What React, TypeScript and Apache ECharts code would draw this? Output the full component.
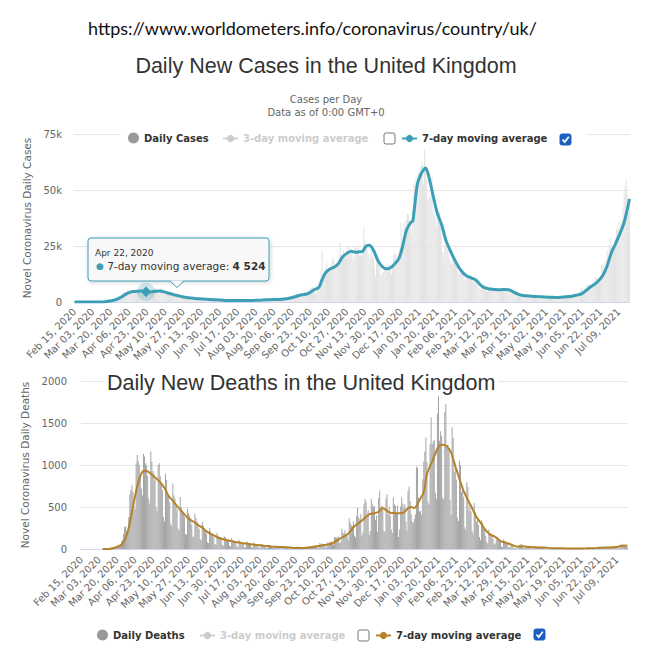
import React, { useEffect, useRef } from 'react';
import * as echarts from 'echarts';

// ---------------- DATA ----------------
const START_DATE = '2020-02-15';
const MONTHS = ['Jan', 'Feb', 'Mar', 'Apr', 'May', 'Jun', 'Jul', 'Aug', 'Sep', 'Oct', 'Nov', 'Dec'];
const SOURCE_URL = 'https://www.worldometers.info/coronavirus/country/uk/';
const TOOLTIP_DATE = '2020-04-22';

// Daily new cases (one value per day)
const casesFeb2020 = [0, 0, 0, 0, 0, 0, 0, 0, 0, 0, 0, 4, 0, 5, 3];
const casesMar2020 = [13, 4, 11, 34, 30, 48, 43, 67, 46, 50, 83, 134, 208, 342, 251, 152, 407, 676, 643, 714, 1035, 665, 967, 1427, 1452, 2129, 2885, 2546, 2433, 2619, 3009];
const casesApr2020 = [4324, 4244, 4450, 3735, 5903, 3802, 3634, 5491, 4344, 5195, 5233, 5288, 4342, 5252, 4603, 4617, 5599, 5525, 5850, 4676, 4301, 4451, 4583, 5386, 4913, 4463, 4309, 3996, 4076, 6032];
const casesMay2020 = [6201, 4806, 4339, 3985, 4406, 6111, 5614, 4649, 3896, 3923, 3877, 3403, 3242, 3446, 3560, 3450, 3534, 2684, 2412, 2615, 2472, 2959, 2959, 2409, 1625, 2004, 2013, 2095, 2095, 1936, 1570];
const casesJun2020 = [1653, 1871, 1805, 1650, 1557, 1326, 1205, 1541, 1387, 1266, 1541, 1425, 1514, 1056, 1514, 1056, 1279, 1218, 1346, 1295, 1221, 958, 874, 653, 1118, 1380, 1006, 901, 652, 1171];
const casesJul2020 = [829, 576, 544, 624, 516, 352, 581, 630, 512, 642, 820, 650, 530, 598, 538, 463, 687, 827, 580, 726, 445, 560, 769, 768, 767, 445, 685, 560, 763, 846, 880];
const casesAug2020 = [771, 744, 938, 670, 892, 950, 871, 758, 1062, 1065, 1148, 1009, 1441, 1012, 1040, 1077, 713, 1089, 812, 1182, 1033, 1288, 1041, 1184, 1048, 1269, 1522, 1276, 1108, 1715, 1406];
const casesSep2020 = [1295, 1508, 1735, 1940, 1813, 2988, 2948, 2460, 2659, 3539, 3497, 3330, 3105, 2621, 3105, 3991, 3395, 4322, 4422, 3899, 4368, 4926, 6178, 6634, 6874, 6042, 5693, 4044, 7143, 7108];
const casesOct2020 = [6914, 6968, 12872, 22961, 12594, 14542, 14162, 17540, 13864, 15166, 12872, 13972, 17234, 19724, 18980, 15650, 16171, 16982, 18804, 21331, 26688, 21242, 20530, 23012, 19790, 20890, 22885, 24701, 23065, 24405, 21915];
const casesNov2020 = [23254, 18950, 20018, 25177, 24141, 23287, 24957, 20572, 21350, 20412, 22950, 33470, 27301, 26860, 24962, 21363, 20051, 19609, 22915, 20252, 19875, 15450, 11299, 18377, 18213, 17555, 16022, 12155, 12330, 13430];
const casesDec2020 = [13430, 16170, 14879, 16298, 15539, 17272, 14718, 12282, 16578, 20964, 21672, 21502, 18447, 20263, 18450, 25161, 35383, 28507, 27052, 35928, 33364, 36804, 39237, 39036, 32725, 34693, 30501, 41385, 53135, 50023, 55892];
const casesJan2021 = [53285, 57725, 54990, 58784, 60916, 62322, 52618, 68053, 59937, 54940, 46169, 45533, 47525, 48682, 55761, 41346, 38598, 37535, 33355, 38905, 37892, 40261, 33552, 30004, 22195, 20089, 25308, 28680, 29079, 23275, 21088];
const casesFeb2021 = [18607, 16840, 19202, 20634, 19114, 18262, 15845, 14104, 12364, 13013, 15144, 13494, 13308, 10972, 9765, 10625, 12718, 12057, 12027, 10406, 9834, 10641, 8489, 9938, 9985, 8523, 7434, 6035];
const casesMar2021 = [5455, 6391, 6385, 6573, 6040, 5177, 5177, 4712, 5766, 5926, 6609, 6753, 5534, 4618, 5089, 5294, 5758, 6303, 4802, 5587, 5312, 5342, 5605, 6397, 6187, 4715, 3862, 4654, 4654, 4052, 4479];
const casesApr2021 = [4052, 3402, 3423, 2297, 2762, 2379, 3567, 3150, 3060, 2589, 1730, 3568, 2472, 2491, 2672, 2596, 2206, 1882, 2524, 2396, 2729, 2678, 2605, 1946, 2020, 1712, 2064, 2166, 2381, 2331];
const casesMay2021 = [2411, 1671, 1649, 2613, 2631, 2490, 2252, 1770, 1770, 2357, 2474, 2285, 2657, 2193, 2027, 1926, 2412, 2696, 2874, 2527, 2695, 2829, 3201, 2439, 2493, 3180, 3542, 4182, 3398, 3240, 3383];
const casesJun2021 = [3165, 4330, 5274, 6238, 5765, 5341, 5683, 6048, 7540, 7393, 8125, 7738, 7490, 7742, 7673, 9055, 11007, 10476, 10321, 9284, 10633, 11625, 16135, 16703, 15810, 18270, 14876, 22868, 20479, 25606];
const casesJul2021 = [27989, 24248, 24885, 24248, 27334, 28773, 32548, 32551, 35707, 31772, 34471, 36660, 42302, 48553, 51870, 54674, 48161, 39950, 46558];

// 7-day moving average of cases
const casesAvgPoints: [string, number][] = [
  ['2020-02-15', 0], ['2020-03-01', 3], ['2020-03-08', 35], ['2020-03-15', 150], ['2020-03-19', 400], ['2020-03-22', 700],
  ['2020-03-26', 1300], ['2020-03-29', 2000], ['2020-04-02', 3200], ['2020-04-06', 4200], ['2020-04-10', 4700], ['2020-04-14', 4850],
  ['2020-04-18', 4900], ['2020-04-22', 4524], ['2020-04-26', 4450], ['2020-05-01', 4800], ['2020-05-05', 4900], ['2020-05-09', 4500],
  ['2020-05-13', 3900], ['2020-05-17', 3400], ['2020-05-21', 2900], ['2020-05-25', 2500], ['2020-05-29', 2100], ['2020-06-03', 1750],
  ['2020-06-08', 1500], ['2020-06-14', 1350], ['2020-06-21', 1150], ['2020-06-28', 950], ['2020-07-05', 700], ['2020-07-12', 620],
  ['2020-07-19', 640], ['2020-07-26', 680], ['2020-08-02', 760], ['2020-08-09', 880], ['2020-08-16', 1050], ['2020-08-23', 1100],
  ['2020-08-30', 1300], ['2020-09-06', 2000], ['2020-09-13', 3000], ['2020-09-20', 3600], ['2020-09-27', 5600], ['2020-10-01', 6500],
  ['2020-10-04', 10000], ['2020-10-07', 12900], ['2020-10-11', 14600], ['2020-10-15', 15500], ['2020-10-19', 17000], ['2020-10-23', 20000],
  ['2020-10-27', 21700], ['2020-10-31', 22700], ['2020-11-04', 22200], ['2020-11-08', 22400], ['2020-11-11', 22600], ['2020-11-14', 24800],
  ['2020-11-17', 25300], ['2020-11-21', 23200], ['2020-11-25', 18800], ['2020-11-29', 16000], ['2020-12-03', 14800], ['2020-12-07', 15300],
  ['2020-12-11', 17000], ['2020-12-15', 19500], ['2020-12-18', 24000], ['2020-12-22', 32000], ['2020-12-26', 35500], ['2020-12-28', 36200],
  ['2021-01-01', 52000], ['2021-01-04', 56500], ['2021-01-07', 59000], ['2021-01-09', 59800], ['2021-01-12', 56000], ['2021-01-16', 47500],
  ['2021-01-20', 39500], ['2021-01-24', 34500], ['2021-01-28', 27500], ['2021-02-01', 23000], ['2021-02-05', 19000], ['2021-02-09', 15500],
  ['2021-02-13', 13000], ['2021-02-17', 11500], ['2021-02-21', 10700], ['2021-02-25', 9800], ['2021-03-01', 7800], ['2021-03-05', 6400],
  ['2021-03-10', 5800], ['2021-03-15', 5600], ['2021-03-20', 5500], ['2021-03-25', 5600], ['2021-03-29', 5300], ['2021-04-02', 4300],
  ['2021-04-06', 3400], ['2021-04-10', 2900], ['2021-04-15', 2700], ['2021-04-20', 2500], ['2021-04-25', 2400], ['2021-05-01', 2200],
  ['2021-05-06', 2100], ['2021-05-11', 2000], ['2021-05-16', 2100], ['2021-05-21', 2300], ['2021-05-26', 2600], ['2021-05-31', 3100],
  ['2021-06-04', 3600], ['2021-06-08', 5000], ['2021-06-12', 6600], ['2021-06-16', 7800], ['2021-06-20', 9500], ['2021-06-24', 11800],
  ['2021-06-28', 16000], ['2021-07-02', 22000], ['2021-07-06', 26000], ['2021-07-10', 30500], ['2021-07-14', 35500], ['2021-07-17', 41500],
  ['2021-07-19', 46000],
];

// Daily new deaths (one value per day)
const deathsFeb2020 = [0, 0, 0, 0, 0, 0, 0, 0, 0, 0, 0, 0, 0, 0, 0];
const deathsMar2020 = [0, 0, 0, 0, 1, 1, 0, 1, 1, 2, 2, 1, 8, 10, 14, 20, 18, 33, 40, 33, 56, 48, 54, 87, 110, 180, 260, 270, 210, 200, 380];
const deathsApr2020 = [650, 700, 760, 680, 520, 470, 1020, 1120, 1050, 1000, 880, 720, 640, 1130, 1100, 1020, 990, 870, 600, 540, 1160, 1040, 930, 900, 820, 500, 450, 1000, 1020, 870];
const deathsMay2020 = [780, 700, 380, 330, 900, 820, 640, 650, 560, 300, 270, 780, 640, 600, 520, 470, 240, 220, 620, 500, 460, 420, 380, 180, 170, 480, 430, 400, 370, 290, 150];
const deathsJun2020 = [140, 420, 370, 330, 300, 240, 120, 100, 320, 280, 250, 220, 180, 80, 70, 250, 210, 190, 170, 140, 60, 50, 190, 160, 150, 130, 110, 50, 40, 150];
const deathsJul2020 = [140, 120, 110, 90, 40, 30, 130, 110, 100, 90, 70, 30, 25, 110, 90, 80, 75, 60, 25, 20, 90, 80, 70, 65, 50, 20, 18, 75, 65, 60, 55];
const deathsAug2020 = [45, 20, 15, 60, 50, 45, 40, 35, 15, 12, 50, 40, 35, 30, 28, 12, 10, 40, 32, 30, 25, 22, 10, 8, 30, 28, 25, 22, 18, 8, 6];
const deathsSep2020 = [3, 8, 10, 12, 2, 2, 3, 32, 8, 14, 6, 9, 5, 9, 27, 20, 21, 27, 27, 18, 11, 37, 37, 40, 40, 34, 17, 13, 71, 59];
const deathsOct2020 = [66, 59, 49, 33, 19, 76, 70, 77, 87, 81, 65, 50, 143, 137, 138, 136, 150, 67, 80, 241, 191, 189, 224, 174, 151, 102, 367, 310, 280, 274, 326];
const deathsNov2020 = [162, 136, 397, 492, 378, 355, 413, 156, 194, 532, 595, 563, 376, 462, 168, 213, 598, 529, 501, 511, 341, 398, 206, 608, 696, 498, 521, 479, 215, 205];
const deathsDec2020 = [603, 648, 414, 504, 397, 231, 189, 616, 533, 516, 424, 519, 144, 232, 506, 612, 532, 489, 534, 326, 215, 691, 744, 570, 410, 320, 316, 357, 414, 981, 964];
const deathsJan2021 = [613, 445, 454, 407, 830, 1041, 1162, 1325, 1035, 563, 529, 1243, 1564, 1248, 1280, 1295, 671, 599, 1610, 1820, 1290, 1401, 1348, 610, 592, 1631, 1725, 1239, 1245, 1200, 587];
const deathsFeb2021 = [406, 1449, 1322, 915, 1014, 828, 373, 333, 1052, 1001, 678, 758, 621, 258, 230, 799, 738, 454, 533, 445, 215, 178, 548, 442, 323, 345, 290, 144];
const deathsMar2021 = [104, 343, 315, 242, 236, 158, 82, 65, 231, 190, 181, 175, 121, 52, 64, 110, 141, 95, 101, 96, 33, 17, 112, 98, 70, 63, 58, 19, 23, 56, 43];
const deathsApr2021 = [51, 10, 10, 10, 4, 20, 45, 53, 60, 40, 7, 13, 23, 33, 30, 34, 32, 10, 4, 33, 22, 18, 32, 17, 9, 17, 29, 22, 22, 15];
const deathsMay2021 = [14, 1, 1, 26, 2, 13, 13, 2, 5, 4, 11, 9, 11, 17, 7, 4, 5, 7, 9, 7, 10, 6, 0, 5, 14, 9, 12, 10, 6, 1, 0];
const deathsJun2021 = [3, 12, 13, 11, 10, 4, 5, 13, 7, 7, 17, 12, 8, 3, 9, 19, 19, 11, 14, 6, 5, 27, 16, 21, 18, 23, 11, 4, 23, 28];
const deathsJul2021 = [27, 18, 18, 15, 9, 37, 33, 35, 34, 34, 6, 50, 50, 63, 49, 51, 41, 25, 19];

// 7-day moving average of deaths
const deathsAvgPoints: [string, number][] = [
  ['2020-03-06', 0], ['2020-03-12', 1], ['2020-03-16', 8], ['2020-03-20', 24], ['2020-03-23', 40], ['2020-03-26', 81],
  ['2020-03-29', 167], ['2020-04-01', 307], ['2020-04-04', 511], ['2020-04-07', 686], ['2020-04-10', 837], ['2020-04-13', 919],
  ['2020-04-15', 931], ['2020-04-18', 924], ['2020-04-21', 897], ['2020-04-24', 863], ['2020-04-27', 829], ['2020-04-30', 794],
  ['2020-05-04', 726], ['2020-05-08', 631], ['2020-05-12', 574], ['2020-05-16', 511], ['2020-05-20', 453], ['2020-05-24', 397],
  ['2020-05-28', 351], ['2020-06-01', 323], ['2020-06-05', 286], ['2020-06-09', 254], ['2020-06-13', 210], ['2020-06-17', 180],
  ['2020-06-21', 156], ['2020-06-25', 131], ['2020-06-30', 113], ['2020-07-05', 99], ['2020-07-10', 84], ['2020-07-15', 74],
  ['2020-07-20', 66], ['2020-07-25', 57], ['2020-07-31', 49], ['2020-08-07', 39], ['2020-08-14', 31], ['2020-08-21', 25],
  ['2020-08-28', 21], ['2020-09-04', 12], ['2020-09-11', 11], ['2020-09-18', 17], ['2020-09-25', 30], ['2020-10-01', 43],
  ['2020-10-06', 52], ['2020-10-11', 68], ['2020-10-16', 107], ['2020-10-21', 143], ['2020-10-26', 182], ['2020-10-31', 259],
  ['2020-11-05', 309], ['2020-11-10', 360], ['2020-11-15', 413], ['2020-11-20', 426], ['2020-11-24', 442], ['2020-11-28', 487],
  ['2020-12-02', 453], ['2020-12-06', 429], ['2020-12-10', 427], ['2020-12-14', 426], ['2020-12-18', 433], ['2020-12-22', 486],
  ['2020-12-25', 499], ['2020-12-28', 487], ['2020-12-31', 537], ['2021-01-03', 604], ['2021-01-06', 679], ['2021-01-09', 893],
  ['2021-01-12', 985], ['2021-01-16', 1103], ['2021-01-20', 1218], ['2021-01-24', 1240], ['2021-01-28', 1221], ['2021-02-01', 1148],
  ['2021-02-05', 985], ['2021-02-09', 834], ['2021-02-13', 688], ['2021-02-17', 583], ['2021-02-21', 488], ['2021-02-25', 383],
  ['2021-03-01', 314], ['2021-03-05', 239], ['2021-03-10', 172], ['2021-03-15', 145], ['2021-03-20', 94], ['2021-03-25', 75],
  ['2021-03-30', 55], ['2021-04-04', 29], ['2021-04-10', 33], ['2021-04-17', 25], ['2021-04-24', 19], ['2021-05-01', 18],
  ['2021-05-08', 8], ['2021-05-15', 9], ['2021-05-22', 7], ['2021-06-01', 6], ['2021-06-10', 8], ['2021-06-20', 12],
  ['2021-06-28', 17], ['2021-07-05', 20], ['2021-07-10', 28], ['2021-07-14', 39], ['2021-07-19', 43],
];

const casesDaily = [
  ...casesFeb2020, ...casesMar2020, ...casesApr2020, ...casesMay2020, ...casesJun2020, ...casesJul2020,
  ...casesAug2020, ...casesSep2020, ...casesOct2020, ...casesNov2020, ...casesDec2020, ...casesJan2021,
  ...casesFeb2021, ...casesMar2021, ...casesApr2021, ...casesMay2021, ...casesJun2021, ...casesJul2021,
];
const deathsDaily = [
  ...deathsFeb2020, ...deathsMar2020, ...deathsApr2020, ...deathsMay2020, ...deathsJun2020, ...deathsJul2020,
  ...deathsAug2020, ...deathsSep2020, ...deathsOct2020, ...deathsNov2020, ...deathsDec2020, ...deathsJan2021,
  ...deathsFeb2021, ...deathsMar2021, ...deathsApr2021, ...deathsMay2021, ...deathsJun2021, ...deathsJul2021,
];

function buildDates(start: string, n: number): string[] {
  const [y, m, d] = start.split('-').map(Number);
  const base = Date.UTC(y, m - 1, d);
  const out: string[] = [];
  for (let i = 0; i < n; i++) out.push(new Date(base + i * 86400000).toISOString().slice(0, 10));
  return out;
}
const dates = buildDates(START_DATE, casesDaily.length);
const fmtDate = (iso: string) => {
  const [y, m, d] = iso.split('-');
  return `${MONTHS[Number(m) - 1]} ${d}, ${y}`;
};
const fmtThousands = (v: number) => String(v).replace(/\B(?=(\d{3})+(?!\d))/g, ' ');

// ---------------- STYLE ----------------
const UI_FONT = 'DejaVu Sans';
const TITLE_FONT = 'Liberation Sans';
const TEAL = '#3d9fb5';
const GOLD = '#b5822a';
const GRID_COLOR = '#e6e6e6';
const AXIS_COLOR = '#ccd6eb';

const legendText = { fontFamily: UI_FONT, fontSize: 10, fontWeight: 'bold', color: '#333' };

function legendItem(name: string, left: number, top: number, w: number, h: number, extra: any = {}) {
  return {
    data: [typeof extra.item === 'object' ? extra.item : name],
    left, top, padding: 0, itemGap: 0, itemWidth: w, itemHeight: h, z: 10,
    textStyle: legendText, inactiveColor: '#cccccc', inactiveBorderColor: '#cccccc',
    ...(extra.selected ? { selected: extra.selected } : {}),
  };
}

function checkbox(x: number, y: number, checked: boolean) {
  const els: any[] = [
    {
      type: 'rect', z: 12,
      shape: { x, y, width: 11, height: 11, r: 2 },
      style: checked ? { fill: '#1b5fc1', stroke: '#1b5fc1', lineWidth: 1 } : { fill: '#fff', stroke: '#767676', lineWidth: 1 },
    },
  ];
  if (checked) {
    els.push({
      type: 'polyline', z: 13,
      shape: { points: [[x + 2.5, y + 5.5], [x + 4.7, y + 8], [x + 8.8, y + 2.8]] },
      style: { stroke: '#fff', lineWidth: 1.8, fill: null },
    });
  }
  return els;
}

function xAxisCfg(margin: number) {
  return {
    type: 'category', data: dates, boundaryGap: true,
    axisLine: { lineStyle: { color: AXIS_COLOR } },
    axisTick: { show: false },
    axisLabel: { interval: 16, rotate: 45, margin, fontFamily: UI_FONT, fontSize: 10, color: '#666', formatter: fmtDate },
    splitLine: { show: false },
  };
}

function buildTopOption() {
  const ttValue = (casesAvgPoints.find((p) => p[0] === TOOLTIP_DATE) as [string, number])[1];
  return {
    animation: false,
    title: [
      {
        text: SOURCE_URL, left: 88, top: 17, padding: 0,
        textStyle: { fontFamily: 'Lato', fontSize: 18, lineHeight: 22, fontWeight: 'normal', color: '#111' },
      },
      {
        text: 'Daily New Cases in the United Kingdom',
        subtext: 'Cases per Day\nData as of 0:00 GMT+0',
        left: 326, textAlign: 'center', top: 53, padding: 0, itemGap: 14,
        textStyle: { fontFamily: TITLE_FONT, fontSize: 21.5, lineHeight: 26, fontWeight: 'normal', color: '#333' },
        subtextStyle: { fontFamily: UI_FONT, fontSize: 10, lineHeight: 13, color: '#666' },
      },
    ],
    legend: [
      legendItem('Daily Cases', 128, 132.5, 11, 11, { item: { name: 'Daily Cases', icon: 'circle', itemStyle: { color: '#999' } } }),
      legendItem('3-day moving average', 222, 133.5, 15, 9, { selected: { '3-day moving average': false } }),
      legendItem('7-day moving average', 401, 133.5, 15, 9),
    ],
    grid: { left: 74, right: 15, top: 134, bottom: 349, containLabel: false },
    xAxis: xAxisCfg(8),
    yAxis: {
      type: 'value', min: 0, max: 75000, interval: 25000,
      name: 'Novel Coronavirus Daily Cases', nameLocation: 'middle', nameGap: 38,
      nameTextStyle: { fontFamily: UI_FONT, fontSize: 10.5, color: '#666' },
      axisLine: { show: false }, axisTick: { show: false },
      axisLabel: { margin: 12, fontFamily: UI_FONT, fontSize: 10, color: '#666', formatter: (v: number) => (v === 0 ? '0' : `${v / 1000}k`) },
      splitLine: { lineStyle: { color: GRID_COLOR } },
    },
    series: [
      { name: 'Daily Cases', type: 'bar', data: casesDaily, itemStyle: { color: '#e3e3e3' }, barCategoryGap: '30%', z: 1 },
      { name: '3-day moving average', type: 'line', data: [], itemStyle: { color: '#cccccc' }, symbol: 'circle' },
      {
        name: '7-day moving average', type: 'line', data: casesAvgPoints, smooth: 0.25,
        showSymbol: false, symbol: 'circle', symbolSize: 6,
        itemStyle: { color: TEAL }, lineStyle: { color: TEAL, width: 3 }, z: 3,
        markPoint: {
          label: { show: false },
          data: [
            { coord: [TOOLTIP_DATE, ttValue], symbol: 'circle', symbolSize: 18, itemStyle: { color: 'rgba(61,159,181,0.25)' } },
            { coord: [TOOLTIP_DATE, ttValue], symbol: 'diamond', symbolSize: [10, 11], itemStyle: { color: TEAL } },
          ],
        },
      },
    ],
    graphic: [
      { type: 'rect', z: 5, shape: { x: 121, y: 128, width: 466, height: 20 }, style: { fill: '#fff' } },
      ...checkbox(384, 133, false),
      ...checkbox(560, 134, true),
      {
        type: 'group', z: 100,
        children: [
          {
            type: 'rect', z: 100, shape: { x: 88, y: 238, width: 181, height: 43, r: 3 },
            style: { fill: '#f8f8f8', stroke: TEAL, lineWidth: 1, shadowBlur: 4, shadowOffsetX: 1, shadowOffsetY: 1, shadowColor: 'rgba(0,0,0,0.18)' },
          },
          { type: 'polygon', z: 101, shape: { points: [[170, 280.5], [177, 287], [184, 280.5]] }, style: { fill: '#f8f8f8' } },
          { type: 'polyline', z: 102, shape: { points: [[170, 281], [177, 287.5], [184, 281]] }, style: { stroke: TEAL, lineWidth: 1, fill: null } },
          {
            type: 'text', z: 103, x: 95, y: 253,
            style: { text: fmtDate(TOOLTIP_DATE), fontFamily: UI_FONT, fontSize: 9, fill: '#333', verticalAlign: 'middle' },
          },
          {
            type: 'text', z: 103, x: 96, y: 266,
            style: {
              text: `{d|●} 7-day moving average: {b|${fmtThousands(ttValue)}}`,
              fontFamily: UI_FONT, fontSize: 10.5, fill: '#333', verticalAlign: 'middle',
              rich: {
                d: { fill: TEAL, fontSize: 9, fontFamily: UI_FONT },
                b: { fill: '#333', fontSize: 10.5, fontWeight: 'bold', fontFamily: UI_FONT },
              },
            },
          },
        ],
      },
    ],
  };
}

function buildBottomOption() {
  return {
    animation: false,
    title: [
      {
        text: 'Daily New Deaths in the United Kingdom', left: 104, top: 371, padding: [0, 3, 0, 3],
        backgroundColor: '#fff', z: 8,
        textStyle: { fontFamily: TITLE_FONT, fontSize: 21.5, lineHeight: 24, fontWeight: 'normal', color: '#333' },
      },
    ],
    legend: [
      legendItem('Daily Deaths', 97, 629.5, 11, 11, { item: { name: 'Daily Deaths', icon: 'circle', itemStyle: { color: '#999' } } }),
      legendItem('3-day moving average', 199, 630.5, 15, 9, { selected: { '3-day moving average': false } }),
      legendItem('7-day moving average', 375, 630.5, 15, 9),
    ],
    grid: { left: 81, right: 17, top: 381, bottom: 102, containLabel: false },
    xAxis: xAxisCfg(9),
    yAxis: {
      type: 'value', min: 0, max: 2000, interval: 500,
      name: 'Novel Coronavirus Daily Deaths', nameLocation: 'middle', nameGap: 46,
      nameTextStyle: { fontFamily: UI_FONT, fontSize: 10.5, color: '#666' },
      axisLine: { show: false }, axisTick: { show: false },
      axisLabel: { margin: 14, fontFamily: UI_FONT, fontSize: 10, color: '#666', formatter: (v: number) => String(v) },
      splitLine: { lineStyle: { color: GRID_COLOR } },
    },
    series: [
      { name: 'Daily Deaths', type: 'bar', data: deathsDaily, itemStyle: { color: '#a4a4a4' }, barCategoryGap: '20%', z: 1 },
      { name: '3-day moving average', type: 'line', data: [], itemStyle: { color: '#cccccc' }, symbol: 'circle' },
      {
        name: '7-day moving average', type: 'line', data: deathsAvgPoints, smooth: 0.25,
        showSymbol: false, symbol: 'circle', symbolSize: 6,
        itemStyle: { color: GOLD }, lineStyle: { color: GOLD, width: 2 }, z: 3,
      },
    ],
    graphic: [
      ...checkbox(358, 630, false),
      ...checkbox(534, 629, true),
    ],
  };
}

export default function App() {
  const topRef = useRef<HTMLDivElement>(null);
  const botRef = useRef<HTMLDivElement>(null);

  useEffect(() => {
    if (!topRef.current || !botRef.current) return;
    const top = echarts.init(topRef.current, undefined, { renderer: 'svg' });
    const bot = echarts.init(botRef.current, undefined, { renderer: 'svg' });
    top.setOption(buildTopOption() as any);
    bot.setOption(buildBottomOption() as any);
    return () => {
      top.dispose();
      bot.dispose();
    };
  }, []);

  const layer: React.CSSProperties = { position: 'absolute', left: 0, top: 0, width: 645, height: 651 };
  return (
    <div style={{ position: 'absolute', left: 0, top: 0, width: 645, height: 651, background: '#fff', overflow: 'hidden' }}>
      <div ref={topRef} style={layer} />
      <div ref={botRef} style={layer} />
    </div>
  );
}
